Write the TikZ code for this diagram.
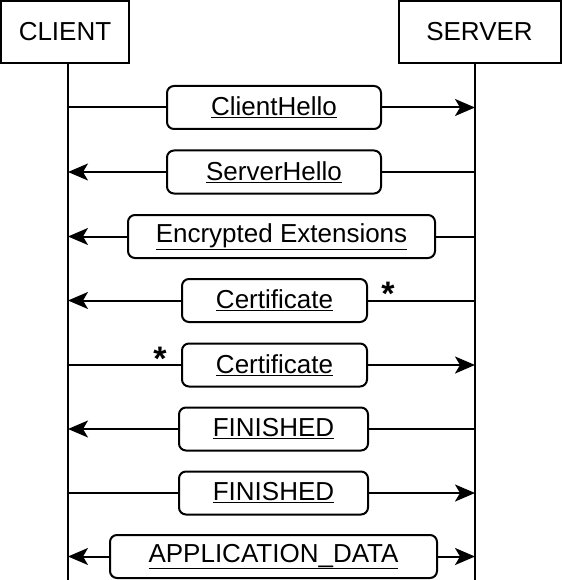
\documentclass[tikz,border=0pt]{standalone}
\usepackage{fontspec}
\setmainfont{Liberation Sans}
\usepackage{tikz}
\usetikzlibrary{arrows.meta}
\tikzset{every picture/.style={line width=2pt}}
\tikzset{
  actor/.style={draw, rectangle, inner sep=0pt, font=\fontsize{26}{30}\selectfont},
  msg/.style={draw, rectangle, rounded corners=7pt, fill=white, inner sep=0pt,
              minimum height=43pt, font=\fontsize{26}{30}\selectfont},
  star/.style={inner sep=0pt, anchor=base, font=\fontsize{34}{38}\selectfont\bfseries}
}

\begin{document}
\begin{tikzpicture}[x=1pt,y=-1pt,>={Stealth[length=20pt,width=17pt,inset=5pt]}]
\useasboundingbox (0,0) rectangle (562,580);
\node[actor, minimum width=128pt, minimum height=62pt] (client) at (65,32) {CLIENT};
\node[actor, minimum width=162pt, minimum height=62pt] (server) at (479.5,32) {SERVER};
\coordinate (cl) at (68,580);
\coordinate (sl) at (475,580);
\draw (client.south -| cl) -- (cl);
\draw (server.south -| sl) -- (sl);
%
\node[msg, minimum width=214pt] (m1) at (274,107.5) {\underline{ClientHello}};
\node[msg, minimum width=214pt] (m2) at (274,172) {\underline{ServerHello}};
\node[msg, minimum width=307pt] (m3) at (281.5,236.5) {\underline{Encrypted Extensions}};
\node[msg, minimum width=185pt] (m4) at (274.5,300.5) {\underline{Certificate}};
\node[msg, minimum width=185pt] (m5) at (274.5,365) {\underline{Certificate}};
\node[msg, minimum width=189pt] (m6) at (273.5,429) {\underline{FINISHED}};
\node[msg, minimum width=189pt] (m7) at (273.5,493) {\underline{FINISHED}};
\node[msg, minimum width=327pt] (m8) at (273.5,556.5) {\underline{APPLICATION\_DATA}};
%
\node[star] (s4) at (388,305) {*};
\node[star] (s5) at (160,370) {*};
%
\foreach \Msg in {m1,m5,m7}{
\draw (\Msg.west -| cl) to (\Msg.west);
\draw[->] (\Msg.east) to (\Msg.east -| sl);
}
\foreach \Msg in {m2,m3,m4,m6}{
\draw[->] (\Msg.west) to (\Msg.west -| cl);
\draw (\Msg.east) to (\Msg.east -| sl);
}
\draw[->] (m8.west) to (m8.west -| cl);
\draw[->] (m8.east) to (m8.east -| sl);
\end{tikzpicture}
\end{document}
